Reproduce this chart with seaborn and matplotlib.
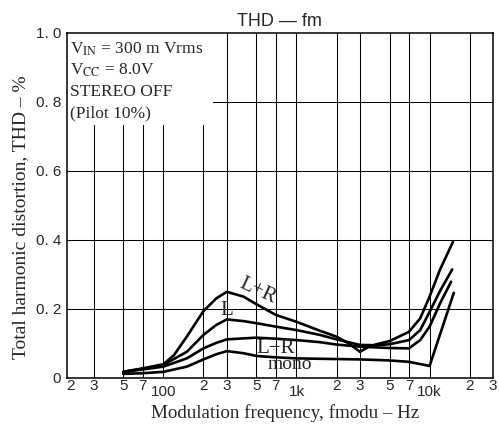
import matplotlib
matplotlib.use("Agg")
import matplotlib.pyplot as plt
import seaborn as sns
from matplotlib.patches import Rectangle

# THD vs modulation frequency
freq_sum = [50, 70, 100, 120, 150, 200, 250, 300, 400, 500, 700, 1000, 1500, 2000,
            2500, 3000, 3500, 4000, 5000, 7000, 8500, 10000, 12000, 15000]
thd_sum = [0.017, 0.027, 0.039, 0.065, 0.119, 0.193, 0.23, 0.249, 0.235, 0.213, 0.182,
           0.162, 0.136, 0.119, 0.098, 0.075, 0.09, 0.097, 0.106, 0.133, 0.172, 0.235,
           0.314, 0.394]

freq_l = [50, 70, 100, 150, 200, 250, 300, 400, 500, 700, 1000, 1500, 2000, 3000,
          4000, 5000, 7000, 8500, 10000, 12000, 14800]
thd_l = [0.017, 0.026, 0.037, 0.075, 0.124, 0.153, 0.169, 0.164, 0.158, 0.148, 0.138,
         0.124, 0.111, 0.095, 0.094, 0.097, 0.109, 0.138, 0.191, 0.252, 0.314]

freq_diff = [50, 70, 100, 150, 200, 250, 300, 400, 500, 700, 1000, 1500, 2000, 3000,
             5000, 7000, 8500, 10000, 12000, 14500]
thd_diff = [0.016, 0.024, 0.032, 0.056, 0.085, 0.101, 0.111, 0.114, 0.116, 0.113, 0.109,
            0.103, 0.096, 0.09, 0.086, 0.085, 0.109, 0.148, 0.216, 0.278]

freq_mono = [50, 70, 100, 150, 200, 250, 300, 400, 500, 700, 1000, 2000, 3000, 5000,
             7000, 10000, 15200]
thd_mono = [0.011, 0.013, 0.017, 0.032, 0.053, 0.068, 0.077, 0.071, 0.063, 0.059, 0.056,
            0.054, 0.053, 0.05, 0.046, 0.034, 0.246]

major_ticks = [100, 1000, 10000]
major_labels = ["100", "1k", "10k"]
minor_ticks = [20, 30, 50, 70, 200, 300, 500, 700, 2000, 3000, 5000, 7000, 20000, 30000]
minor_labels = ["2", "3", "5", "7", "2", "3", "5", "7", "2", "3", "5", "7", "2", "3"]
grid_freqs = [30, 50, 70, 100, 200, 300, 500, 700, 1000, 2000, 3000, 5000, 7000, 10000, 20000]
y_ticks = [0, 0.2, 0.4, 0.6, 0.8, 1.0]
y_labels = ["0", "0. 2", "0. 4", "0. 6", "0. 8", "1. 0"]

sns.set_style("white")
plt.rcParams['font.family'] = ['Liberation Serif', 'DejaVu Serif']
plt.rcParams['mathtext.fontset'] = 'stix'

fig = plt.figure(figsize=(4.99, 4.25), dpi=100)
ax = fig.add_axes([0.1337, 0.1113, 0.8545, 0.8118])

for f, v in [(freq_sum, thd_sum), (freq_l, thd_l), (freq_diff, thd_diff), (freq_mono, thd_mono)]:
    sns.lineplot(x=f, y=v, ax=ax, color='black', lw=1.9, zorder=3)

ax.set_xscale('log')
ax.set_xlim(18.8, 30000)
ax.set_ylim(0, 1.0)

# grid
for f in grid_freqs:
    ax.axvline(f, color='black', lw=0.75, zorder=1)
for y in y_ticks[1:-1]:
    ax.axhline(y, color='black', lw=0.75, zorder=1)

# white area behind the conditions text
ax.add_patch(Rectangle((0, 0.732), 0.342, 0.268, transform=ax.transAxes,
                       facecolor='white', edgecolor='none', zorder=1.5))

ax.set_xticks(major_ticks)
ax.set_xticklabels(major_labels, fontfamily='Liberation Sans', fontsize=11)
ax.set_xticks(minor_ticks, minor=True)
ax.set_xticklabels(minor_labels, minor=True, fontfamily='Liberation Sans', fontsize=11)
ax.tick_params(axis='x', which='major', length=0, pad=5)
ax.tick_params(axis='x', which='minor', length=0, pad=1)

ax.set_yticks(y_ticks)
ax.set_yticklabels(y_labels, fontfamily='Liberation Sans', fontsize=11)
ax.tick_params(axis='y', length=0, pad=4)

for s in ax.spines.values():
    s.set_color('black')
    s.set_linewidth(1.1)

ax.set_title("THD — fm", fontfamily='Liberation Sans', fontsize=13, pad=5)
ax.set_xlabel("Modulation frequency, fmodu – Hz", fontsize=13.7)
ax.xaxis.set_label_coords(0.512, -0.077)
ax.set_ylabel("Total harmonic distortion, THD – %", fontsize=14)
ax.yaxis.set_label_coords(-0.088, 0.466)

# conditions
cond = [r"V$_{\mathrm{IN}}$ = 300 m Vrms", r"V$_{\mathrm{CC}}$ = 8.0V", "STEREO OFF", "(Pilot 10%)"]
for i, t in enumerate(cond):
    ax.text(0.008, 0.953 - i * 0.062, t, transform=ax.transAxes, fontsize=12.5,
            va='center', ha='left', zorder=4)

# curve names
ax.text(515, 0.25, "L+R", fontsize=15, rotation=-25, ha='center', va='center', zorder=4)
ax.text(301, 0.196, "L", fontsize=15, ha='center', va='center', zorder=4)
ax.text(700, 0.085, "L−R", fontsize=15, ha='center', va='center', zorder=4)
ax.text(895, 0.037, "mono", fontsize=14, ha='center', va='center', zorder=4)

fig.savefig("out.png", dpi=100)
